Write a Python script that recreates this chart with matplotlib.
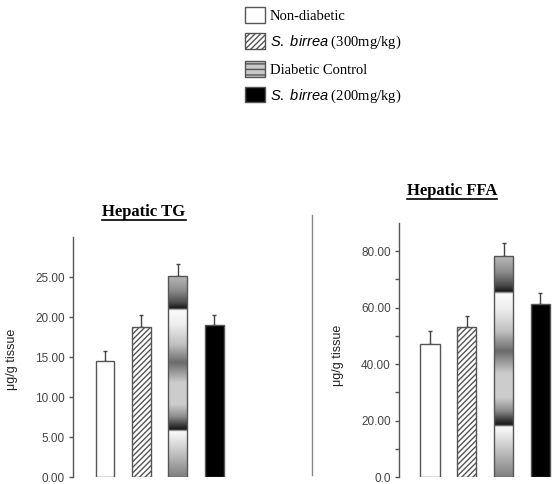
import numpy as np
import matplotlib
matplotlib.use("Agg")
import matplotlib.pyplot as plt
from matplotlib.patches import Patch
from matplotlib.lines import Line2D

groups = ["Non-diabetic", r"$\it{S.\ birrea}$ (300mg/kg)", "Diabetic Control",
          r"$\it{S.\ birrea}$ (200mg/kg)"]

tg_mean = [14.5, 18.75, 25.1, 19.0]
tg_sem = [1.25, 1.5, 1.5, 1.25]
tg_ticks = [0, 5, 10, 15, 20, 25]
tg_labels = ["0.00", "5.00", "10.00", "15.00", "20.00", "25.00"]

ffa_mean = [47.0, 53.0, 78.2, 61.4]
ffa_sem = [4.6, 4.2, 4.6, 3.9]
ffa_ticks = [0, 20, 40, 60, 80]
ffa_minor = [10, 30, 50, 70]
ffa_labels = ["0.0", "20.00", "40.00", "60.00", "80.00"]

plt.rcParams["font.family"] = ["Liberation Serif", "DejaVu Serif"]
plt.rcParams["mathtext.fontset"] = "custom"
plt.rcParams["mathtext.rm"] = "Liberation Serif"
plt.rcParams["mathtext.bf"] = "Liberation Serif:bold"
plt.rcParams["mathtext.it"] = "Liberation Sans:italic"

EDGE = "#555555"
# shading of the "Diabetic Control" bar, bottom -> top (fraction of bar height)
grad_pos = [0, 0.1, 0.2, 0.226, 0.236, 0.26, 0.3, 0.36, 0.47, 0.57, 0.66, 0.76,
            0.83, 0.842, 0.87, 0.93, 1.0]
grad_val = [0.5, 0.72, 0.93, 0.98, 0.1, 0.25, 0.55, 0.8, 0.8, 0.42, 0.75, 0.93,
            0.98, 0.1, 0.3, 0.55, 0.72]

fig = plt.figure(figsize=(5.6, 4.84), dpi=100)


def panel(rect, means, sems, ticks, labels, ylim, xlim, minor=None):
    ax = fig.add_axes(rect)
    x = np.arange(len(means))
    styles = [dict(facecolor="white", edgecolor=EDGE),
              dict(facecolor="white", edgecolor=EDGE, hatch="//////"),
              dict(facecolor="none", edgecolor=EDGE),
              dict(facecolor="black", edgecolor=EDGE)]
    bars = []
    for i in range(len(means)):
        b = ax.bar(x[i], means[i], width=0.52, linewidth=1.0, zorder=2, **styles[i])
        bars.append(b[0])
    p = bars[2]
    prof = np.interp(np.linspace(0, 1, 300), grad_pos, grad_val)[:, None]
    im = ax.imshow(prof, cmap="gray", vmin=0, vmax=1, origin="lower", aspect="auto",
                   extent=(p.get_x(), p.get_x() + p.get_width(), 0, p.get_height()),
                   zorder=1.5, interpolation="bilinear")
    im.set_clip_path(p)
    ax.errorbar(x, means, yerr=[np.zeros(len(sems)), sems], fmt="none",
                ecolor="#444444", elinewidth=1.0, capsize=1.5, capthick=1.0, zorder=1)
    ax.set_xlim(*xlim)
    ax.set_ylim(*ylim)
    ax.set_xticks([])
    ax.set_yticks(ticks)
    ax.set_yticklabels(labels, family="Liberation Sans")
    if minor:
        ax.set_yticks(minor, minor=True)
    for s in ["top", "right", "bottom"]:
        ax.spines[s].set_visible(False)
    ax.spines["left"].set_color("#555555")
    ax.spines["left"].set_linewidth(1.0)
    ax.tick_params(axis="y", which="both", direction="out", length=3, width=1,
                   color="#555555", labelsize=8.5, labelcolor="#444444", pad=3)
    ax.set_ylabel("μg/g tissue", family="Liberation Sans", fontsize=9, color="#222222")
    return ax


ax1 = panel([73 / 560, 7 / 484, 167 / 560, 240 / 484], tg_mean, tg_sem,
            tg_ticks, tg_labels, (0, 30), (-0.877, 3.7))
ax1.yaxis.set_label_coords(-0.33, 0.49)
ax2 = panel([399 / 560, 7 / 484, 161 / 560, 254 / 484], ffa_mean, ffa_sem,
            ffa_ticks, ffa_labels, (0, 90), (-0.84, 3.53), minor=ffa_minor)
ax2.yaxis.set_label_coords(-0.34, 0.48)

titles = [fig.text(144 / 560, 1 - 212 / 484, "Hepatic TG", ha="center", va="center",
                   fontsize=12, fontweight="bold"),
          fig.text(452 / 560, 1 - 191 / 484, "Hepatic FFA", ha="center", va="center",
                   fontsize=12, fontweight="bold")]

fig.add_artist(Line2D([312 / 560, 312 / 560], [1 - 475 / 484, 1 - 215 / 484],
                      color="#888888", linewidth=1.0))

handles = [Patch(facecolor="white", edgecolor=EDGE),
           Patch(facecolor="white", edgecolor=EDGE, hatch="//////"),
           Patch(facecolor="#c8c8c8", edgecolor=EDGE, hatch="---"),
           Patch(facecolor="black", edgecolor=EDGE)]
fig.legend(handles, groups, loc="upper left", bbox_to_anchor=(245 / 560, 1 - 7 / 484),
           frameon=False, fontsize=10.5, handlelength=1.37, handleheight=1.3,
           handletextpad=0.34, labelspacing=0.68, borderpad=0, borderaxespad=0)

# underline the titles
fig.canvas.draw()
r = fig.canvas.get_renderer()
for t in titles:
    bb = t.get_window_extent(r).transformed(fig.transFigure.inverted())
    fig.add_artist(Line2D([bb.x0, bb.x1], [bb.y0 + 0.001, bb.y0 + 0.001],
                          color="black", linewidth=1.2))

fig.savefig("out.png", dpi=100)
